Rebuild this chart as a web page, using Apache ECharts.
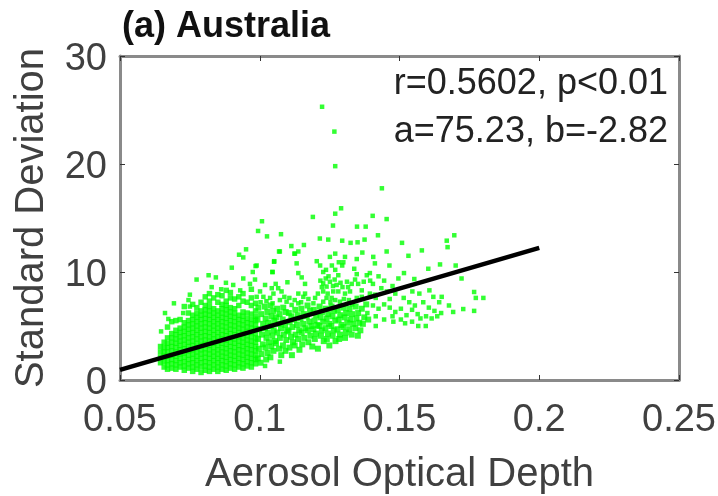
<!DOCTYPE html>
<html><head><meta charset="utf-8">
<script src="https://cdn.jsdelivr.net/npm/echarts@6/dist/echarts.min.js"></script>
<style>html,body{margin:0;padding:0;background:#fff}#c{width:718px;height:496px}</style>
</head><body><div id="c"></div>
<script>
const xTicks = [0.05, 0.1, 0.15, 0.2, 0.25];
const yTicks = [0, 10, 20, 30];
const fitLine = [[0.05, 0.94], [0.2, 12.23]];
const sparsePoints = [
[.1223,25.3],[.1267,23.0],[.127,19.8],[.1437,17.75],[.1291,15.9],[.127,15.4],[.119,15.1],[.1404,15.2],[.1454,14.9],[.1008,14.7],[.1262,14.3],[.1348,14.2],[.1379,14.2],[.0994,13.8],[.1076,13.5],[.1026,13.3],[.1423,13.4],
[.1696,13.4],[.1669,12.9],[.1672,12.3],[.1509,12.7],[.158,12.0],[.1532,11.5],[.1454,11.9],[.1464,10.6],[.1603,10.3],[.1645,10.7],[.1701,10.6],[.1722,9.4],[.1516,9.9],[.1553,9.35],[.1496,9.4],[.1767,8.15],[.1773,7.6],[.18,7.6],[.1728,6.57],[.1767,6.4],[.1692,6.3],[.1677,6.9],[.1649,6.2],[.1651,7.7],[.1621,7.7],[.1642,7.2],[.1607,8.3],[.1571,8.0],[.1546,8.2],[.1594,5.0],[.1567,5.0],[.152,5.25],[.1478,5.4],[.1415,5.0],
[.0661,6.2],[.0693,7.1],[.0673,5.65],[.0647,4.5],[.075,7.9],[.0745,7.4],[.075,6.8],[.0726,6.2],[.0774,9.3],[.0817,9.7],[.0843,9.5],[.09,10.4],[.0879,9.0],[.0926,11.6],[.0941,11.35],[.0951,12.1],[.0985,10.55],[.0975,10.0],[.0941,9.4],[.0983,9.3],[.0905,8.8],[.1046,10],[.1051,10.95],[.1072,11.9],[.1113,12.4],[.1126,11.7],[.1099,9.05],[.1019,1.3],[.1072,1.7],[.0965,8.9],[.0862,8.4],[.0828,8.6],[.093,8.3],
[.1158,12.5],[.1215,13.1],[.1245,13.0],[.1295,12.9],[.1325,12.7],[.135,12.75],[.1375,13.0],
[.1395,9.2],[.1425,9.6],[.1445,9.2],[.1405,8.9],[.1475,8.7],[.1455,8.2],[.1435,8.5],[.1485,8.0],[.1515,7.6],[.1535,7.2],[.1555,6.9],[.1585,7.2],[.1605,6.7],[.1625,6.4],[.1545,6.5],[.1565,6.1],[.1595,5.9],[.1615,5.7],[.1635,5.9],[.1505,6.6],[.1525,6.0],[.1485,6.3],[.1465,6.7],[.1445,7.0],[.1425,6.6],[.1405,6.9],[.1415,7.6],[.1465,7.5],[.1385,6.2],[.1415,5.9],[.1445,5.6],[.1475,5.9],[.1505,5.6],[.1545,5.4],[.1575,5.7]
];
const upperMidPoints = [
[.1069,11.9],[.1124,11.7],[.1138,11.9],[.1132,10.8],[.1052,11.0],[.0989,10.6],[.1045,10.0],[.1138,9.9],[.115,9.5],[.1162,8.9],[.1019,8.8],[.1057,8.9],[.1204,11.0],[.1216,10.6],[.127,11.7],[.1251,11.4],[.1305,11.4],[.1299,10.9],[.1295,10.6],[.1367,11.8],[.1347,11.2],[.1338,10.3],[.1347,9.8],[.127,10.2],[.1281,9.7],[.1227,10.0],[.1236,9.4],[.1227,8.95],[.1251,9.1],[.1239,8.65],[.1263,8.2],[.1281,8.2],[.1305,8.0],[.1323,8.2],[.1365,8.3],[.1406,11.4],[.1412,10.8],[.1383,9.7],[.1394,9.9],[.1341,9.3],
[.1001,8.2],[.1043,8.5],[.1066,8.5],[.1049,8.0],[.1078,8.2],[.1138,8.0],[.1162,8.0],[.1156,7.7],[.0989,7.7],[.1013,7.7],[.1037,7.6],[.1072,7.4],[.1096,7.25],[.1114,6.95],[.1138,7.1],[.1198,7.6],[.1192,7.1],[.1227,8.2],[.1239,7.6],[.1257,7.6],[.1227,7.25],[.127,7.4],[.1287,7.25],[.1347,7.6],[.1365,7.7],[.1394,8.0],[.1412,7.9],
[.1243,8.0],[.1262,8.7],[.1222,8.6],[.1275,8.8],[.1296,8.6],[.1312,9.1],[.1253,7.2],[.1301,7.5],
[.1003,7.2],[.1024,7.3],[.1046,7.1],[.1088,7.7],[.1106,7.6],[.1125,7.4],[.1148,7.2],[.1174,7.5],[.1208,8.0],[.1217,9.2],[.1246,9.6],[.1268,9.3],[.1289,9.0],[.1258,10.6],[.1316,8.6],[.1329,8.9],[.1319,7.4],[.1331,7.0],[.1352,8.9],[.1372,9.1],[.1283,10.9],[.1237,10.2]
];
const lowerMidPoints = [
[.0995,6.7],[.1005,6.1],[.0992,5.6],[.1012,5.2],[.0998,4.7],[.1008,4.2],[.0994,3.8],[.1011,3.3],[.0997,2.9],[.1006,2.4],[.0993,2.0],[.1003,1.6],
[.1018,6.8],[.1027,6.3],[.1021,5.7],[.1031,5.3],[.1019,4.8],[.1029,4.4],[.1024,3.9],[.1033,3.5],[.102,3.0],[.1028,2.5],[.1023,1.9],
[.1039,6.9],[.1048,6.4],[.1042,5.9],[.1052,5.5],[.104,5.0],[.105,4.6],[.1045,4.1],[.1054,3.6],[.1041,3.1],[.1049,2.7],[.1038,2.1],
[.1062,6.6],[.1071,6.1],[.1059,5.8],[.1068,5.2],[.1076,4.8],[.1063,4.4],[.1072,3.9],[.1058,3.4],[.1069,2.9],[.1077,2.3],
[.1084,6.7],[.1093,6.3],[.1082,5.6],[.1091,5.1],[.1098,4.6],[.1086,4.2],[.1095,3.7],[.1083,3.2],[.1092,2.7],
[.1104,6.2],[.1113,5.9],[.1107,5.4],[.1117,4.9],[.1103,4.5],[.1112,4.0],[.1119,3.5],[.1106,3.0],[.1115,2.3],
[.1127,6.5],[.1136,6.0],[.1124,5.6],[.1133,5.1],[.1141,4.6],[.1128,4.2],[.1137,3.8],[.1125,3.2],[.1142,2.8],
[.1149,6.6],[.1158,6.1],[.1146,5.7],[.1155,5.2],[.1163,4.8],[.115,4.4],[.1159,3.9],[.1152,3.3],
[.1171,6.9],[.118,6.4],[.1168,5.9],[.1177,5.4],[.1185,5.0],[.1172,4.6],[.1181,4.1],[.1174,3.5],[.1188,3.1],
[.1193,6.5],[.1202,6.0],[.1196,5.5],[.1206,5.1],[.1192,4.7],[.1201,4.3],[.1197,3.8],[.1208,2.9],
[.1214,6.8],[.1223,6.3],[.1217,5.8],[.1227,5.4],[.1213,5.0],[.1222,4.6],[.1219,4.1],[.1229,3.6],
[.1236,6.6],[.1245,6.1],[.1239,5.7],[.1248,5.2],[.1235,4.8],[.1244,4.3],[.124,3.8],[.1249,3.2],
[.1257,6.8],[.1266,6.4],[.126,5.9],[.127,5.5],[.1256,5.0],[.1265,4.6],[.1261,4.1],[.1271,3.6],
[.1279,6.5],[.1288,6.0],[.1282,5.6],[.1292,5.1],[.1278,4.7],[.1287,4.2],[.1284,3.8],
[.13,6.7],[.1309,6.2],[.1303,5.8],[.1313,5.3],[.1299,4.9],[.1308,4.4],[.1305,3.9],
[.1321,6.6],[.133,6.1],[.1324,5.6],[.1334,5.2],[.132,4.7],[.1329,4.2],
[.1343,6.8],[.1352,6.2],[.1346,5.7],[.1356,5.3],[.1342,4.8],[.1351,4.1],
[.1365,6.6],[.1374,5.8],[.1369,5.2],[.136,4.6],[.1381,7.0],[.1388,5.6]
];
const denseColumns = [
[.0645,[1.6,2.1,2.6,3.1]],
[.0658,[1.2,1.7,2.2,2.6,3.0,3.5]],
[.067,[1.0,1.4,1.8,2.2,2.6,3.0,3.4,3.9,4.9]],
[.0685,[1.1,1.5,1.9,2.3,2.7,3.1,3.5,3.9,4.3,5.4]],
[.07,[1.0,1.4,1.8,2.2,2.6,3.0,3.4,3.8,4.2,4.6,5.5]],
[.0715,[1.2,1.6,2.0,2.4,2.8,3.2,3.6,4.0,4.4,4.8,5.6]],
[.073,[.9,1.3,1.7,2.1,2.5,2.9,3.3,3.7,4.1,4.5,4.9,5.3,6.8]],
[.0745,[1.1,1.5,1.9,2.3,2.7,3.1,3.5,3.9,4.3,4.7,5.1,5.5,6.2]],
[.076,[.8,1.2,1.6,2.0,2.4,2.8,3.2,3.6,4.0,4.4,4.8,5.2,5.6,6.0,7.0]],
[.0775,[1.0,1.4,1.8,2.2,2.6,3.0,3.4,3.8,4.2,4.6,5.0,5.4,5.8,6.2,6.7]],
[.079,[.7,1.2,1.6,2.0,2.4,2.8,3.2,3.6,4.0,4.4,4.8,5.2,5.6,6.0,6.4,7.2]],
[.0805,[.9,1.3,1.7,2.1,2.5,2.9,3.3,3.7,4.1,4.5,4.9,5.3,5.7,6.1,6.5,6.9,7.7]],
[.082,[.8,1.2,1.6,2.0,2.4,2.8,3.2,3.6,4.0,4.4,4.8,5.2,5.6,6.0,6.4,6.8,7.3,8.0]],
[.0835,[1.0,1.4,1.8,2.2,2.6,3.0,3.4,3.8,4.2,4.6,5.0,5.4,5.8,6.2,6.6,7.6]],
[.085,[.8,1.2,1.6,2.0,2.4,2.8,3.2,3.6,4.0,4.4,4.8,5.2,5.6,6.0,6.4,7.2,7.9]],
[.0865,[1.0,1.4,1.8,2.2,2.6,3.0,3.4,3.8,4.2,4.6,5.0,5.4,5.8,6.2,6.6,7.0,7.8]],
[.088,[.9,1.3,1.7,2.1,2.5,2.9,3.3,3.7,4.1,4.5,4.9,5.3,5.7,6.1,6.5,6.9,7.3,8.3]],
[.0895,[1.1,1.5,1.9,2.3,2.7,3.1,3.5,3.9,4.3,4.7,5.1,5.5,5.9,6.3,6.7,7.6,8.1]],
[.091,[1.0,1.4,1.8,2.2,2.6,3.0,3.4,3.8,4.2,4.6,5.0,5.4,5.8,6.2,6.6,7.5]],
[.0925,[1.2,1.6,2.0,2.4,2.8,3.2,3.6,4.0,4.4,4.8,5.2,5.6,6.0,6.9,7.7]],
[.094,[1.1,1.5,1.9,2.3,2.7,3.1,3.5,3.9,4.3,4.7,5.1,5.5,5.9,6.3,7.3,8.0]],
[.0955,[1.3,1.7,2.1,2.5,2.9,3.3,3.7,4.1,4.5,4.9,5.3,5.7,6.2,7.2]],
[.097,[1.2,1.6,2.0,2.4,2.8,3.2,3.6,4.0,4.4,4.8,5.2,5.6,6.1,6.9,7.6,8.4]],
[.0985,[1.5,1.9,2.3,2.7,3.1,3.5,3.9,4.3,4.7,5.1,5.5,5.9,6.4,7.1]]
];
const scatterData = sparsePoints.concat(upperMidPoints);
const coreData = [];
denseColumns.forEach(function (col) {
  col[1].forEach(function (v) { coreData.push([col[0], v]); });
});
const textColor = '#404040';
const boxColor = '#8a8a8a';
const font = 'Liberation Sans';
function hiddenAxis(pos, min, max, interval) {
  return {
    type: 'value', position: pos, min: min, max: max, interval: interval,
    axisLine: { show: true, onZero: false, lineStyle: { color: boxColor, width: 3 } },
    axisTick: { show: true, inside: true, length: 5, lineStyle: { color: '#333', width: 1 } },
    axisLabel: { show: false }, splitLine: { show: false }
  };
}
function mainAxis(pos, min, max, interval, name, gap, margin, fmt) {
  const a = hiddenAxis(pos, min, max, interval);
  a.name = name; a.nameLocation = 'middle'; a.nameGap = gap;
  a.nameTextStyle = { color: textColor, fontSize: 40, fontFamily: font };
  a.axisLabel = { show: true, color: textColor, fontSize: 38, fontFamily: font, margin: margin, formatter: fmt, hideOverlap: false };
  return a;
}
const xMain = mainAxis('bottom', xTicks[0], xTicks[xTicks.length - 1], 0.05, 'Aerosol Optical Depth', 75, 22, function (v) { return String(+v.toFixed(2)); });
const yMain = mainAxis('left', yTicks[0], yTicks[yTicks.length - 1], 10, 'Standard Deviation', 68, 13, function (v) { return String(v); });
yMain.axisLabel.verticalAlign = 'top';
yMain.axisLabel.lineHeight = 8;
const chart = echarts.init(document.getElementById('c'), null, { renderer: 'canvas' });
chart.setOption({
  animation: false,
  backgroundColor: '#fff',
  grid: { left: 120, right: 39, top: 56, bottom: 116, outerBoundsMode: 'none' },
  title: [
    { text: '(a) Australia', left: 117, top: 4, textStyle: { fontSize: 36, fontWeight: 'bold', color: '#111', fontFamily: font } },
    { text: 'r=0.5602, p<0.01', right: 45, top: 61, textStyle: { fontSize: 36, fontWeight: 'normal', color: '#222', fontFamily: font } },
    { text: 'a=75.23, b=-2.82', right: 45, top: 109, textStyle: { fontSize: 36, fontWeight: 'normal', color: '#222', fontFamily: font } }
  ],
  xAxis: [ xMain, hiddenAxis('top', xTicks[0], xTicks[xTicks.length - 1], 0.05) ],
  yAxis: [ yMain, hiddenAxis('right', yTicks[0], yTicks[yTicks.length - 1], 10) ],
  series: [
    { type: 'scatter', data: coreData, symbol: 'rect', symbolSize: 5.5, itemStyle: { color: '#00ff00' }, silent: true, z: 2 },
    { type: 'scatter', data: lowerMidPoints, symbol: 'rect', symbolSize: 6, itemStyle: { color: '#00ff00' }, silent: true, z: 2 },
    { type: 'scatter', data: scatterData, symbol: 'rect', symbolSize: 4.5, itemStyle: { color: '#00ff00' }, silent: true, z: 2 },
    { type: 'line', data: fitLine, showSymbol: false, lineStyle: { color: '#000', width: 4.5 }, silent: true, z: 3 }
  ]
});
</script></body></html>
